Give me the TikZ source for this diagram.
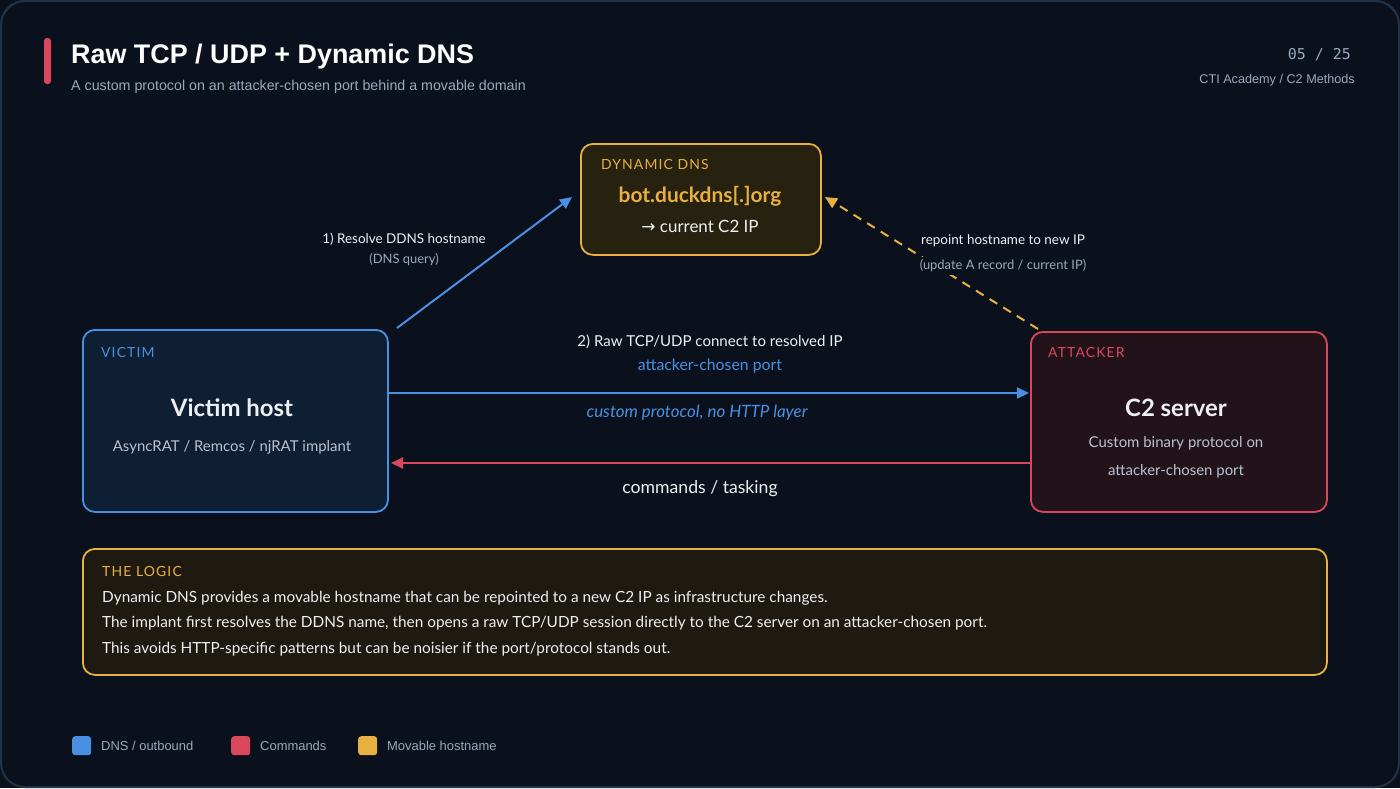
\documentclass[tikz,border=0pt]{standalone}
\usepackage{fontspec}
\setmainfont{Lato}
\newfontfamily\titlefont{Liberation Sans}
\newfontfamily\monofont{DejaVu Sans Mono}
\newfontfamily\dejavu{DejaVu Sans}
\newfontfamily\capsfont[LetterSpace=8]{Lato}
\usetikzlibrary{arrows.meta}
\definecolor{bg}{HTML}{0B111C}
\definecolor{frame}{HTML}{22324A}
\definecolor{cblue}{HTML}{4A90E2}
\definecolor{cred}{HTML}{D9485A}
\definecolor{cgold}{HTML}{E8B040}
\definecolor{vfill}{HTML}{0F1F33}
\definecolor{afill}{HTML}{22131B}
\definecolor{dfill}{HTML}{272110}
\definecolor{lfill}{HTML}{1E1A12}
\definecolor{wtext}{HTML}{EEF0F3}
\definecolor{gtext}{HTML}{9AA8BD}
\definecolor{ltext}{HTML}{B8C2D0}
\tikzset{
  px/.style={x=1bp,y=-1bp},
  box/.style={draw, line width=1.8bp, rounded corners=12bp, anchor=north west, inner sep=0pt},
  tag/.style={font=\capsfont\fontsize{14}{16}\selectfont, anchor=west, inner sep=0pt},
  head/.style={font=\bfseries\fontsize{24}{28}\selectfont, text=wtext, inner sep=0pt},
  sub/.style={font=\fontsize{15}{18}\selectfont, text=ltext, inner sep=0pt},
  lbl/.style={font=\fontsize{13.5}{16}\selectfont, text=wtext, inner sep=1bp},
  lblg/.style={font=\fontsize{13}{16}\selectfont, text=gtext, inner sep=1bp},
  flow/.style={line width=2bp, -{Triangle[length=12bp,width=11bp]}},
  legsq/.style={rounded corners=3bp, minimum width=19bp, minimum height=19bp, inner sep=0pt, anchor=north west},
  legtx/.style={font=\titlefont\fontsize{13}{16}\selectfont, text=gtext, anchor=west, inner sep=0pt},
  logic/.style={font=\fontsize{15.4}{18}\selectfont, text=wtext, anchor=west, inner sep=0pt},
}
\begin{document}
\begin{tikzpicture}[px]
\useasboundingbox (0,0) rectangle (1400,788);
\fill[bg] (0,0) rectangle (1400,788);
\draw[frame, line width=2bp, rounded corners=24bp] (1,1) rectangle (1399,787);

% header
\fill[cred, rounded corners=3bp] (44,38) rectangle (51,84);
\node[anchor=base west, inner sep=0pt, font=\titlefont\bfseries\fontsize{27}{32}\selectfont, text=white] (title) at (71,64) {Raw TCP / UDP + Dynamic DNS};
\node[anchor=west, inner sep=0pt, font=\titlefont\fontsize{14.3}{17}\selectfont, text=gtext] (subtitle) at (71,87) {A custom protocol on an attacker-chosen port behind a movable domain};
\node[anchor=east, inner sep=0pt, font=\monofont\fontsize{15}{18}\selectfont, text=gtext] (page) at (1351,55) {05 / 25};
\node[anchor=east, inner sep=0pt, font=\titlefont\fontsize{12.7}{16}\selectfont, text=gtext] (crumb) at (1355,80) {CTI Academy / C2 Methods};

% boxes
\node[box, draw=cgold, fill=dfill, minimum width=240bp, minimum height=111bp] (dns) at (580,143) {};
\node[tag, text=cgold] (dnstag) at (601,165) {DYNAMIC DNS};
\node[font=\bfseries\fontsize{21}{25}\selectfont, text=cgold, inner sep=0pt] (dnsname) at (700,196) {bot.duckdns[.]org};
\node[font=\fontsize{17}{20}\selectfont, text=wtext, inner sep=0pt] (dnsip) at (700,226) {{\dejavu →} current C2 IP};

\node[box, draw=cblue, fill=vfill, minimum width=305bp, minimum height=182bp] (victim) at (82,329) {};
\node[tag, text=cblue] (victag) at (101,352) {VICTIM};
\node[head] (vichead) at (232,408) {Victim host};
\node[sub] (vicsub) at (232,447) {AsyncRAT / Remcos / njRAT implant};

\node[box, draw=cred, fill=afill, minimum width=296bp, minimum height=180bp] (attacker) at (1030,331) {};
\node[tag, text=cred] (atttag) at (1048,352) {ATTACKER};
\node[head] (atthead) at (1176,408) {C2 server};
\node[sub] (attsub1) at (1176,443) {Custom binary protocol on};
\node[sub] (attsub2) at (1176,471) {attacker-chosen port};

% connectors
\coordinate (q1) at (397,328);
\coordinate (q2) at (572,197);
\draw[flow, cblue] (q1) -- (q2);
\node[lbl] (l1) at (404,239) {1) Resolve DDNS hostname};
\node[lblg] (l1b) at (404,260) {(DNS query)};

\coordinate (r1) at (1038,329);
\coordinate (r2) at (825,197);
\draw[flow, cgold, dashed, dash pattern=on 9bp off 7bp] (r1) -- (r2);
\node[lbl, fill=bg, inner sep=3bp] (l2) at (1003,241) {repoint hostname to new IP};
\node[lblg, fill=bg, inner sep=3bp] (l2b) at (1003,266) {(update A record / current IP)};

\coordinate (c1) at (388,393);
\coordinate (c2) at (1029,393);
\draw[flow, cblue] (c1) -- (c2);
\node[lbl, font=\fontsize{15.1}{18}\selectfont] (l3) at (710,342) {2) Raw TCP/UDP connect to resolved IP};
\node[lbl, text=cblue, font=\fontsize{15.9}{19}\selectfont] (l3b) at (710,366) {attacker-chosen port};
\node[lbl, text=cblue, font=\itshape\fontsize{17}{20}\selectfont] (l3c) at (697,413) {custom protocol, no HTTP layer};

\coordinate (k1) at (1030,463);
\coordinate (k2) at (391,463);
\draw[flow, cred] (k1) -- (k2);
\node[lbl, font=\fontsize{17.7}{21}\selectfont] (l4) at (700,489) {commands / tasking};

% logic box
\node[box, draw=cgold, fill=lfill, minimum width=1244bp, minimum height=126bp] (logicbox) at (82,548) {};
\node[tag, text=cgold] (logictag) at (102,571) {THE LOGIC};
\node[logic] (lg1) at (102,598) {Dynamic DNS provides a movable hostname that can be repointed to a new C2 IP as infrastructure changes.};
\node[logic] (lg2) at (102,623) {The implant first resolves the DDNS name, then opens a raw TCP/UDP session directly to the C2 server on an attacker-chosen port.};
\node[logic] (lg3) at (102,649) {This avoids HTTP-specific patterns but can be noisier if the port/protocol stands out.};

% legend
\node[legsq, fill=cblue] (sq1) at (72,736) {};
\node[legtx] (lt1) at (101,746) {DNS / outbound};
\node[legsq, fill=cred] (sq2) at (231,736) {};
\node[legtx] (lt2) at (260,746) {Commands};
\node[legsq, fill=cgold] (sq3) at (358,736) {};
\node[legtx] (lt3) at (387,746) {Movable hostname};
\end{tikzpicture}
\end{document}
